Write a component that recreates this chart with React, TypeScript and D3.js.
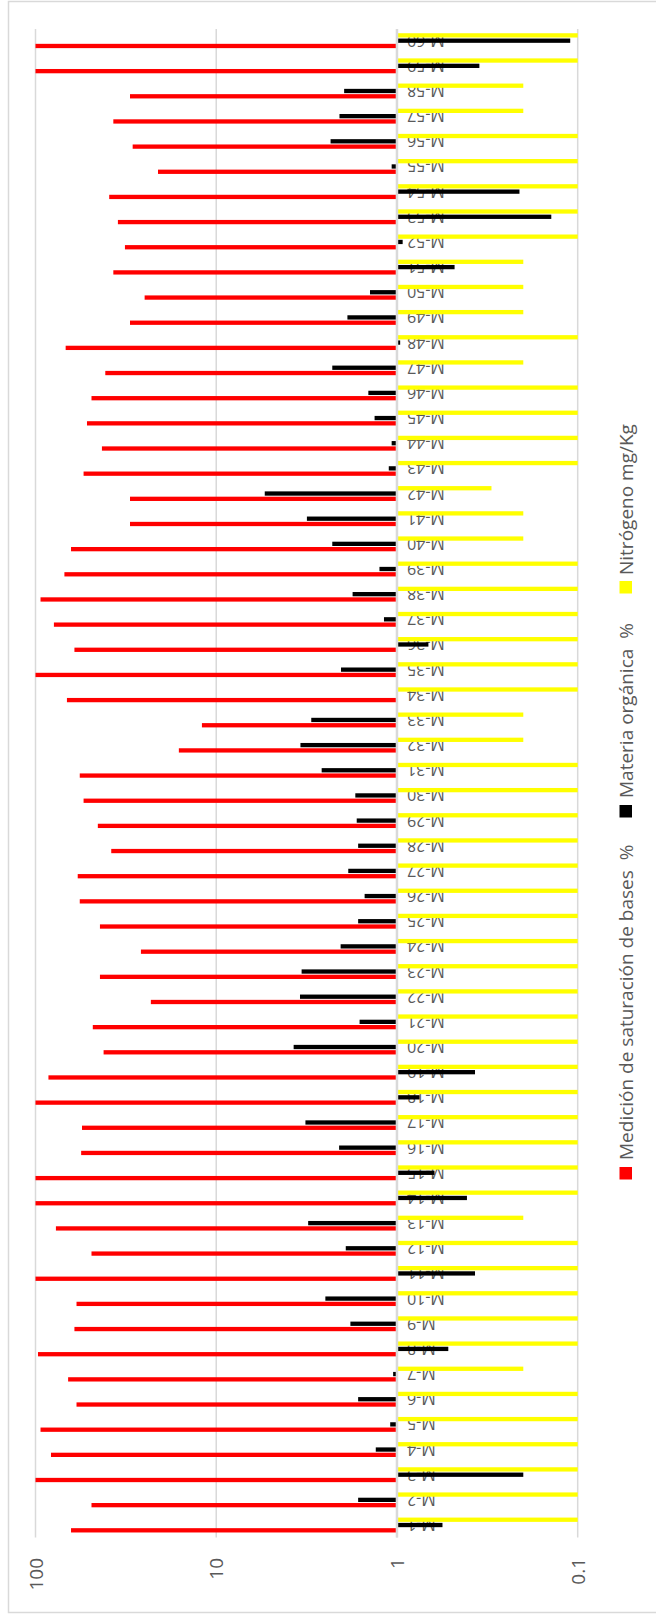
import React from 'react';
import * as d3 from 'd3';

const categories = [
  'M-1','M-2','M-3','M-4','M-5','M-6','M-7','M-8','M-9','M-10',
  'M-11','M-12','M-13','M-14','M-15','M-16','M-17','M-18','M-19','M-20',
  'M-21','M-22','M-23','M-24','M-25','M-26','M-27','M-28','M-29','M-30',
  'M-31','M-32','M-33','M-34','M-35','M-36','M-37','M-38','M-39','M-40',
  'M-41','M-42','M-43','M-44','M-45','M-46','M-47','M-48','M-49','M-50',
  'M-51','M-52','M-53','M-54','M-55','M-56','M-57','M-58','M-59','M-60',
];

// Medición de saturación de bases %
const saturacion = [
  63.6, 49.0, 100, 82.1, 93.8, 59.3, 66.0, 96.9, 60.9, 59.3,
  100, 49.0, 77.1, 100, 100, 55.9, 55.3, 100, 84.8, 42.0,
  48.2, 23.0, 44.0, 26.1, 44.0, 56.9, 58.4, 38.1, 45.2, 54.2,
  56.9, 16.1, 12.0, 67.0, 100, 60.9, 79.1, 93.8, 69.2, 63.6,
  30.0, 30.0, 54.2, 42.9, 51.9, 49.0, 41.1, 68.1, 30.0, 24.9,
  37.1, 32.0, 35.0, 39.1, 21.0, 29.0, 37.1, 30.0, 100, 100,
];

// Materia orgánica %
const materia = [
  0.56, 1.64, 0.20, 1.31, 1.09, 1.64, 1.05, 0.52, 1.81, 2.49,
  0.37, 1.92, 3.10, 0.41, 0.62, 2.09, 3.21, 0.75, 0.37, 3.73,
  1.61, 3.44, 3.37, 2.05, 1.64, 1.51, 1.86, 1.64, 1.67, 1.70,
  2.61, 3.42, 2.98, 1.0, 2.04, 0.67, 1.18, 1.76, 1.25, 2.28,
  3.15, 5.39, 1.11, 1.07, 1.33, 1.44, 2.28, 0.96, 1.88, 1.41,
  0.48, 0.93, 0.14, 0.21, 1.07, 2.33, 2.08, 1.96, 0.35, 0.11,
];

// Nitrógeno mg/Kg
const nitrogeno = [
  0.1, 0.1, 0.1, 0.1, 0.1, 0.1, 0.2, 0.1, 0.1, 0.1,
  0.1, 0.1, 0.2, 0.1, 0.1, 0.1, 0.1, 0.1, 0.1, 0.1,
  0.1, 0.1, 0.1, 0.1, 0.1, 0.1, 0.1, 0.1, 0.1, 0.1,
  0.1, 0.2, 0.2, 0.1, 0.1, 0.1, 0.1, 0.1, 0.1, 0.2,
  0.2, 0.3, 0.1, 0.1, 0.1, 0.1, 0.2, 0.1, 0.2, 0.2,
  0.2, 0.1, 0.1, 0.1, 0.1, 0.1, 0.2, 0.2, 0.1, 0.1,
];

const tickValues = [100, 10, 1, 0.1];
const tickLabels = ['100', '10', '1', '0.1'];

const seriesKeys = ['nitrogeno', 'materia', 'saturacion'];
const seriesData: Record<string, number[]> = { nitrogeno, materia, saturacion };
const seriesColors: Record<string, string> = {
  saturacion: '#ff0000',
  materia: '#000000',
  nitrogeno: '#ffff00',
};
const legendItems = [
  { key: 'saturacion', label: 'Medición de saturación de bases  %' },
  { key: 'materia', label: 'Materia orgánica  %' },
  { key: 'nitrogeno', label: 'Nitrógeno mg/Kg' },
];

const W = 656;
const H = 1616;
const FONT = '"Open Sans", "Noto Sans", sans-serif';
const GRAY = '#595959';

export default function App() {
  const x = d3.scaleLog().domain([100, 0.1]).range([35.5, 577.7]);
  const y = d3
    .scaleBand<string>()
    .domain([...categories].reverse())
    .range([28.1, 1537.6]);
  const sub = d3
    .scaleBand<string>()
    .domain(seriesKeys)
    .range([0, y.bandwidth()])
    .paddingInner(0)
    .paddingOuter(0.873);
  const barH = 4.3;
  const x1 = x(1);
  const [plotTop, plotBottom] = y.range();

  const legendPos: Record<string, { sq: number; text: number }> = {
    saturacion: { sq: 1167, text: 1160 },
    materia: { sq: 805, text: 798 },
    nitrogeno: { sq: 581, text: 575 },
  };

  return (
    <svg
      width={W}
      height={H}
      style={{ position: 'absolute', left: 0, top: 0, display: 'block', background: '#fff' }}
    >
      <rect x={8.5} y={1.5} width={W + 10} height={1611} fill="#fff" stroke="#d9d9d9" strokeWidth={1.5} />

      {/* gridlines */}
      {tickValues.map((t) => (
        <line
          key={'g' + t}
          x1={x(t)}
          x2={x(t)}
          y1={plotTop + 1}
          y2={plotBottom}
          stroke="#d9d9d9"
          strokeWidth={1.5}
        />
      ))}

      {/* category labels */}
      {categories.map((c) => (
        <text
          key={'l' + c}
          transform={`translate(407, ${y(c)! + y.bandwidth() / 2}) rotate(180)`}
          textAnchor="end"
          dominantBaseline="central"
          fontFamily={FONT}
          fontSize={16}
          fill={GRAY}
        >
          {c}
        </text>
      ))}

      {/* bars */}
      {seriesKeys.map((s) =>
        categories.map((c, i) => {
          const v = seriesData[s][i];
          const xv = x(v);
          const yy = y(c)! + sub(s)! + (sub.bandwidth() - barH) / 2;
          return (
            <rect
              key={s + c}
              x={Math.min(xv, x1)}
              y={yy}
              width={Math.abs(xv - x1)}
              height={barH}
              fill={seriesColors[s]}
            />
          );
        })
      )}

      {/* axis line at 1 */}
      <line x1={x1} x2={x1} y1={plotTop + 1} y2={plotBottom} stroke="#d9d9d9" strokeWidth={2.5} />

      {/* value axis labels */}
      {tickValues.map((t, i) => (
        <text
          key={'t' + t}
          transform={`translate(${x(t)}, 1558) rotate(-90)`}
          textAnchor="end"
          dominantBaseline="central"
          fontFamily={FONT}
          fontSize={19}
          fill={GRAY}
        >
          {tickLabels[i]}
        </text>
      ))}

      {/* legend */}
      {legendItems.map((it) => {
        const p = legendPos[it.key];
        return (
          <g key={'lg' + it.key}>
            <rect x={619.5} y={p.sq} width={12.5} height={12.5} fill={seriesColors[it.key]} />
            <text
              transform={`translate(633, ${p.text}) rotate(-90)`}
              textAnchor="start"
              fontFamily={FONT}
              fontSize={19}
              fill={GRAY}
              style={{ whiteSpace: 'pre' }}
            >
              {it.label}
            </text>
          </g>
        );
      })}
    </svg>
  );
}
